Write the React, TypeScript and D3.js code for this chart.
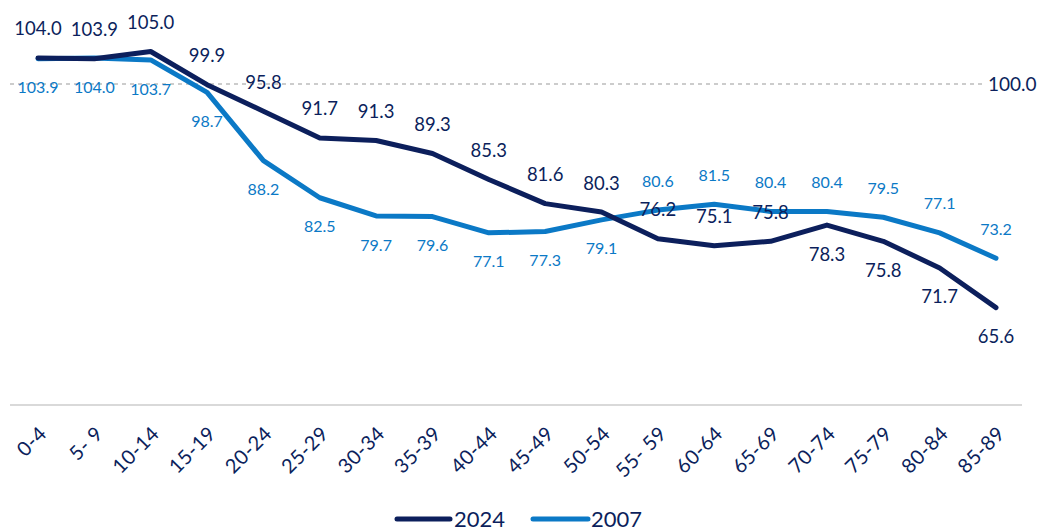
import React from 'react';
import * as d3 from 'd3';

const ageGroups = ['0-4', '5- 9', '10-14', '15-19', '20-24', '25-29', '30-34', '35-39', '40-44', '45-49', '50-54', '55- 59', '60-64', '65-69', '70-74', '75-79', '80-84', '85-89'];
const values2024 = [104.0, 103.9, 105.0, 99.9, 95.8, 91.7, 91.3, 89.3, 85.3, 81.6, 80.3, 76.2, 75.1, 75.8, 78.3, 75.8, 71.7, 65.6];
const values2007 = [103.9, 104.0, 103.7, 98.7, 88.2, 82.5, 79.7, 79.6, 77.1, 77.3, 79.1, 80.6, 81.5, 80.4, 80.4, 79.5, 77.1, 73.2];
// label goes above the line (true) or below (false)
const above2024 = ageGroups.map((_, i) => i < 14);
const above2007 = ageGroups.map((_, i) => i > 10);
const referenceValue = 100;

const width = 1047;
const height = 531;
const DARK = '#0c1f5c';
const LIGHT = '#0b79c6';
const FONT = 'Lato, "Open Sans", sans-serif';

const App: React.FC = () => {
  const x = d3.scalePoint<string>().domain(ageGroups).range([38, 996]);
  const y = d3.scaleLinear().domain([60, 110]).range([344, 19]);

  const line = d3.line<number>()
    .x((_, i) => x(ageGroups[i]) as number)
    .y(d => y(d));

  return (
    <svg width={width} height={height} style={{ position: 'absolute', left: 0, top: 0, fontFamily: FONT }}>
      {/* reference line at 100 */}
      <line x1={10} x2={985} y1={y(referenceValue)} y2={y(referenceValue)} stroke="#9a9a9a" strokeWidth={1.2} strokeDasharray="4,4" />
      <text x={988} y={y(referenceValue)} dy="0.36em" fontSize={19} fill={DARK}>{referenceValue.toFixed(1)}</text>

      {/* baseline */}
      <line x1={10} x2={1022} y1={405} y2={405} stroke="#d9d9d9" strokeWidth={2} />

      {/* x tick labels */}
      {ageGroups.map(g => (
        <text key={g} transform={`translate(${(x(g) as number) + 5}, 430) rotate(-45)`} textAnchor="end" dy="0.35em" fontSize={20} letterSpacing={0.5} fill={DARK}>{g}</text>
      ))}

      <path d={line(values2007) || ''} fill="none" stroke={LIGHT} strokeWidth={5} strokeLinejoin="round" strokeLinecap="round" />
      <path d={line(values2024) || ''} fill="none" stroke={DARK} strokeWidth={5} strokeLinejoin="round" strokeLinecap="round" />

      {values2024.map((v, i) => (
        <text key={'a' + i} x={x(ageGroups[i])} y={y(v) + (above2024[i] ? -29 : 29)} dy="0.35em" textAnchor="middle" fontSize={18.5} fill={DARK}>{v.toFixed(1)}</text>
      ))}
      {values2007.map((v, i) => (
        <text key={'b' + i} x={x(ageGroups[i])} y={y(v) + (above2007[i] ? -29 : 29)} dy="0.35em" textAnchor="middle" fontSize={16} fill={LIGHT}>{v.toFixed(1)}</text>
      ))}

      {/* legend */}
      <g transform="translate(397, 519)">
        <line x1={0} x2={53} y1={0} y2={0} stroke={DARK} strokeWidth={5} strokeLinecap="round" />
        <text x={57} y={0} dy="0.36em" fontSize={22} fill={DARK}>2024</text>
        <line x1={136} x2={191} y1={0} y2={0} stroke={LIGHT} strokeWidth={5} strokeLinecap="round" />
        <text x={194} y={0} dy="0.36em" fontSize={22} fill={DARK}>2007</text>
      </g>
    </svg>
  );
};

export default App;
